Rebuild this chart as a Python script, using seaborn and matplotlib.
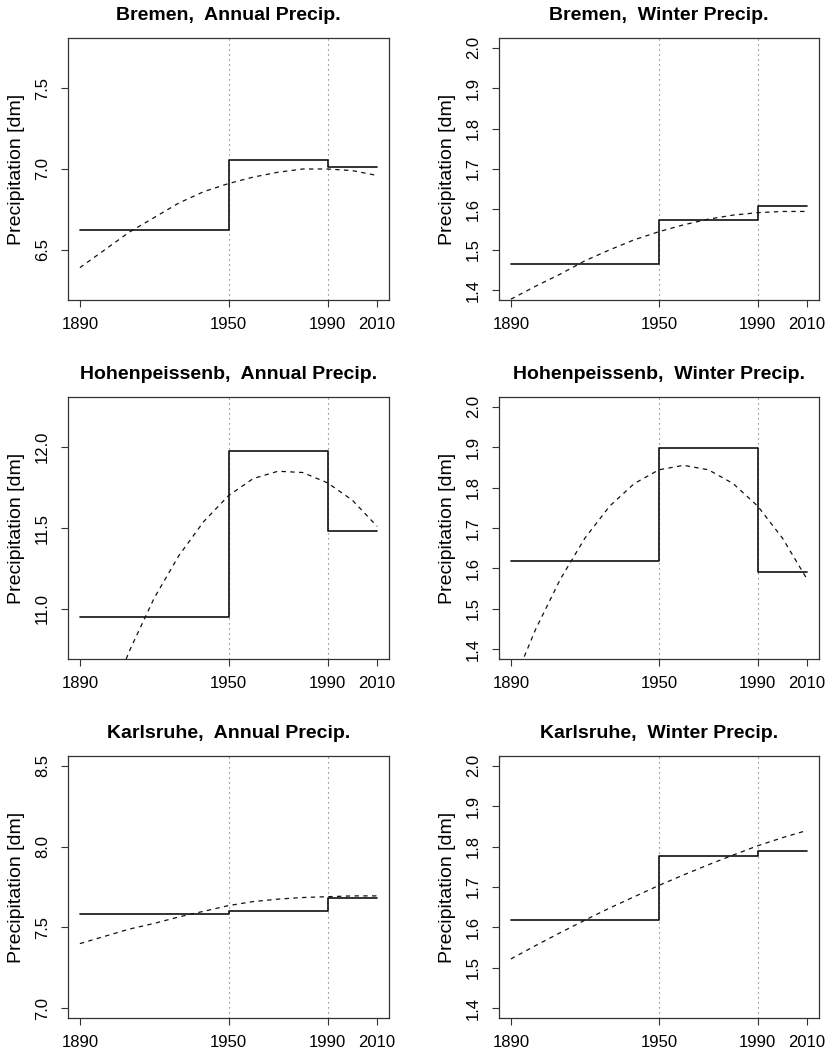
import numpy as np
import pandas as pd
import seaborn as sns
import matplotlib
matplotlib.use('Agg')
import matplotlib.pyplot as plt

# period boundaries of the step means and years of the fitted (dashed) curve
period_edges = [1890, 1950, 1990, 2010]
fit_years = [1890, 1900, 1910, 1920, 1930, 1940, 1950, 1960, 1970, 1980, 1990, 2000, 2010]
x_ticks = [1890, 1950, 1990, 2010]

# period means (1890-1950, 1950-1990, 1990-2010)
bremen_annual_means = [6.625, 7.056, 7.014]
bremen_winter_means = [1.466, 1.575, 1.609]
hohen_annual_means = [10.95, 11.975, 11.48]
hohen_winter_means = [1.619, 1.899, 1.592]
karlsruhe_annual_means = [7.584, 7.600, 7.685]
karlsruhe_winter_means = [1.619, 1.776, 1.788]

# dashed trend curves, read at every decade
bremen_annual_fit = [6.39, 6.50, 6.61, 6.70, 6.79, 6.86, 6.91, 6.95, 6.98, 7.00, 7.00, 6.99, 6.96]
bremen_winter_fit = [1.378, 1.41, 1.44, 1.473, 1.50, 1.525, 1.545, 1.562, 1.576, 1.586, 1.592, 1.595, 1.595]
hohen_annual_fit = [9.93, 10.36, 10.74, 11.067, 11.33, 11.54, 11.70, 11.806, 11.851, 11.843, 11.779, 11.672, 11.51]
hohen_winter_fit = [1.302, 1.449, 1.573, 1.675, 1.754, 1.81, 1.844, 1.855, 1.844, 1.81, 1.754, 1.675, 1.573]
karlsruhe_annual_fit = [7.40, 7.445, 7.49, 7.525, 7.565, 7.60, 7.635, 7.66, 7.675, 7.685, 7.69, 7.695, 7.695]
karlsruhe_winter_fit = [1.522, 1.555, 1.587, 1.618, 1.648, 1.676, 1.704, 1.730, 1.755, 1.779, 1.802, 1.822, 1.840]

annual_ticks_bremen = [6.5, 7.0, 7.5]
annual_ticks_hohen = [11.0, 11.5, 12.0]
annual_ticks_karlsruhe = [7.0, 7.5, 8.0, 8.5]
winter_ticks = [1.4, 1.5, 1.6, 1.7, 1.8, 1.9, 2.0]

panels = [
    ('Bremen,  Annual Precip.', bremen_annual_means, bremen_annual_fit, (6.25, 7.75), annual_ticks_bremen),
    ('Bremen,  Winter Precip.', bremen_winter_means, bremen_winter_fit, (1.4, 2.0), winter_ticks),
    ('Hohenpeissenb,  Annual Precip.', hohen_annual_means, hohen_annual_fit, (10.75, 12.25), annual_ticks_hohen),
    ('Hohenpeissenb,  Winter Precip.', hohen_winter_means, hohen_winter_fit, (1.4, 2.0), winter_ticks),
    ('Karlsruhe,  Annual Precip.', karlsruhe_annual_means, karlsruhe_annual_fit, (7.0, 8.5), annual_ticks_karlsruhe),
    ('Karlsruhe,  Winter Precip.', karlsruhe_winter_means, karlsruhe_winter_fit, (1.4, 2.0), winter_ticks),
]

sns.set_style('ticks')
plt.rcParams['font.family'] = ['Liberation Sans', 'DejaVu Sans']
for key in ['text.color', 'axes.labelcolor', 'xtick.labelcolor', 'ytick.labelcolor']:
    plt.rcParams[key] = 'black'

W, H = 831, 1053
fig = plt.figure(figsize=(W / 100, H / 100), dpi=100)

col_left = [68, 499]
col_width = [321, 320]
row_top = [38, 397, 756]
box_h = 262

frame_col = '#333333'

for i, (title, means, fit, ylim, yticks) in enumerate(panels):
    r, c = divmod(i, 2)
    ax = fig.add_axes([col_left[c] / W, 1 - (row_top[r] + box_h) / H,
                       col_width[c] / W, box_h / H])

    steps = pd.DataFrame({'year': period_edges, 'precip': means + [means[-1]]})
    trend = pd.DataFrame({'year': fit_years, 'precip': fit})

    for xv in [1950, 1990]:
        ax.axvline(xv, color='#666666', lw=0.8, ls=(0, (1, 3.5)), zorder=1)

    sns.lineplot(data=steps, x='year', y='precip', ax=ax, color='#111111',
                 lw=1.2, drawstyle='steps-post', zorder=3)
    sns.lineplot(data=trend, x='year', y='precip', ax=ax, color='#111111',
                 lw=0.9, zorder=2)
    ax.lines[-1].set_dashes((3.5, 3.5))

    # R-style 4% axis expansion
    xr = period_edges[-1] - period_edges[0]
    ax.set_xlim(period_edges[0] - 0.04 * xr, period_edges[-1] + 0.04 * xr)
    yr = ylim[1] - ylim[0]
    ax.set_ylim(ylim[0] - 0.04 * yr, ylim[1] + 0.04 * yr)

    ax.set_xticks(x_ticks, [str(v) for v in x_ticks])
    ax.set_yticks(yticks, [f'{v:.1f}' for v in yticks])
    for lab in ax.get_yticklabels():
        lab.set_rotation(90)
        lab.set_va('center')

    ax.tick_params(axis='both', direction='out', length=5, width=0.8,
                   color=frame_col, labelsize=12, pad=7)
    ax.tick_params(axis='y', pad=8)
    for s in ax.spines.values():
        s.set_visible(True)
        s.set_color(frame_col)
        s.set_linewidth(0.9)

    ax.set_xlabel('')
    ax.set_ylabel('Precipitation [dm]', fontsize=14)
    ax.yaxis.set_label_coords(-0.135, 0.5)
    ax.set_title(title, fontsize=14, fontweight='bold', pad=13)

fig.savefig('out.png', dpi=100)
